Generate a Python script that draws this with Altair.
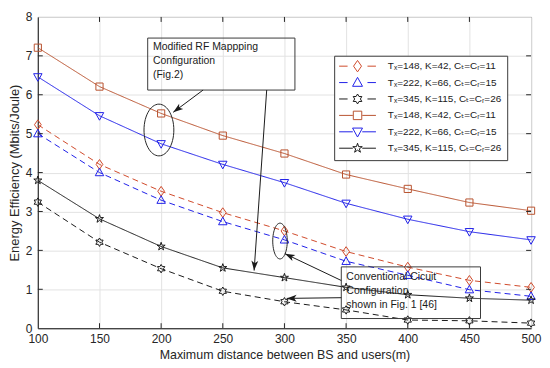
import altair as alt
import pandas as pd
import numpy as np

# ---------------- data ----------------
distance_m = [100, 150, 200, 250, 300, 350, 400, 450, 500]
ee_conv_148 = [5.23, 4.21, 3.52, 2.97, 2.50, 1.97, 1.57, 1.23, 1.05]
ee_conv_222 = [5.00, 4.00, 3.29, 2.74, 2.27, 1.72, 1.36, 0.99, 0.82]
ee_conv_345 = [3.24, 2.21, 1.53, 0.95, 0.68, 0.47, 0.21, 0.19, 0.13]
ee_mod_148 = [7.21, 6.21, 5.52, 4.95, 4.49, 3.95, 3.58, 3.23, 3.02]
ee_mod_222 = [6.46, 5.46, 4.74, 4.21, 3.74, 3.21, 2.80, 2.48, 2.27]
ee_mod_345 = [3.80, 2.81, 2.10, 1.55, 1.30, 1.05, 0.86, 0.77, 0.72]

series_labels = [
    "T\u2093=148, K=42, C\u209c=C\u1d63=11",
    "T\u2093=222, K=66, C\u209c=C\u1d63=15",
    "T\u2093=345, K=115, C\u209c=C\u1d63=26",
    "T\u2093=148, K=42, C\u209c=C\u1d63=11\u200b",
    "T\u2093=222, K=66, C\u209c=C\u1d63=15\u200b",
    "T\u2093=345, K=115, C\u209c=C\u1d63=26\u200b",
]
series_values = [ee_conv_148, ee_conv_222, ee_conv_345, ee_mod_148, ee_mod_222, ee_mod_345]

x_ticks = [100, 150, 200, 250, 300, 350, 400, 450, 500]
y_ticks = [0, 1, 2, 3, 4, 5, 6, 7, 8]

# annotations (data coordinates)
box_x1 = [189.1, 346.1]
box_x2 = [308.5, 459.0]
box_y1 = [7.457, 1.576]
box_y2 = [6.121, 0.248]
note_x = [193.4, 350.2]
note_y = [7.35, 1.45]
note_text = ["Modified RF Mappping\nConfiguration\n(Fig.2)",
             "Conventional Cicuit\nConfiguration\nshown in Fig. 1 [46]"]

ellipse_x = [198.2, 296.4]
ellipse_y = [5.094, 2.240]

arrow_x_from = [234.0, 285.6, 346.1, 346.1]
arrow_y_from = [6.121, 6.121, 1.226, 0.784]
arrow_x_to = [209.8, 275.4, 300.4, 301.8]
arrow_y_to = [5.549, 1.481, 1.915, 0.766]

# ---------------- styles ----------------
keys = series_labels
colors = ["#D04A2A", "#2020E8", "#1A1A1A", "#B8532F", "#2020E8", "#1A1A1A"]
dashes = [[6, 4], [6, 4], [6, 4], [1, 0], [1, 0], [1, 0]]

diamond = "M0,-1.15L0.8,0L0,1.15L-0.8,0Z"
tri_up = "M0,-1.05L1,0.75L-1,0.75Z"
hexagram = ("M0,-1L0.289,-0.5L0.866,-0.5L0.577,0L0.866,0.5L0.289,0.5L0,1"
            "L-0.289,0.5L-0.866,0.5L-0.577,0L-0.866,-0.5L-0.289,-0.5Z")
square = "M-0.85,-0.85H0.85V0.85H-0.85Z"
tri_down = "M0,1.05L1,-0.75L-1,-0.75Z"
pentagram = ("M0,-1L0.225,-0.309L0.951,-0.309L0.363,0.118L0.588,0.809L0,0.382"
             "L-0.588,0.809L-0.363,0.118L-0.951,-0.309L-0.225,-0.309Z")
markers = [diamond, tri_up, hexagram, square, tri_down, pentagram]

dash_seg = "M-3.7,0H-2.0M2.0,0H3.7"
solid_seg = "M-3.7,0H-0.95M0.95,0H3.7"
legend_paths = [dash_seg + m for m in markers[:3]] + [solid_seg + m for m in markers[3:]]


def ellipse_path(rx, ry, n=60):
    t = np.linspace(0, 2 * np.pi, n, endpoint=False)
    pts = ["%.3f,%.3f" % (rx * np.cos(a), ry * np.sin(a)) for a in t]
    return "M" + "L".join(pts) + "Z"


ellipse_shapes = [ellipse_path(0.577, 1.0), ellipse_path(0.406, 1.0)]
ellipse_sizes = [2704, 1296]
arrow_head = "M0,0L-0.55,1.6L0,1.2L0.55,1.6Z"
arrow_angles = [233.3, 184.0, 295.5, 269.3]

FONT = "Liberation Sans, Arial, DejaVu Sans, sans-serif"

# inward tick marks on all four sides (MATLAB box style), in data units
tick_len_x = 4.0    # ~5 px along x
tick_len_y = 0.128  # ~5 px along y
tick_rows = []
for v in x_ticks[1:-1]:
    tick_rows.append({"x": v, "x2": v, "y": 0, "y2": tick_len_y})
    tick_rows.append({"x": v, "x2": v, "y": 8, "y2": 8 - tick_len_y})
for v in y_ticks[1:-1]:
    tick_rows.append({"x": 100, "x2": 100 + tick_len_x, "y": v, "y2": v})
    tick_rows.append({"x": 500, "x2": 500 - tick_len_x, "y": v, "y2": v})
tick_df = pd.DataFrame(tick_rows)

# ---------------- tables ----------------
rows = []
for k, vals in zip(keys, series_values):
    for d, v in zip(distance_m, vals):
        rows.append({"series": k, "distance": d, "ee": v})
df = pd.DataFrame(rows)

box_df = pd.DataFrame({"x1": box_x1, "x2": box_x2, "y1": box_y1, "y2": box_y2})
note_df = pd.DataFrame({"x": note_x, "y": note_y, "text": note_text})
ell_df = pd.DataFrame({"x": ellipse_x, "y": ellipse_y, "shape": ellipse_shapes, "size": ellipse_sizes})
arr_df = pd.DataFrame({"x": arrow_x_from, "y": arrow_y_from, "x2": arrow_x_to, "y2": arrow_y_to,
                       "angle": arrow_angles, "shape": [arrow_head] * 4})

# ---------------- encodings ----------------
xscale = alt.Scale(domain=[100, 500], nice=False, zero=False)
yscale = alt.Scale(domain=[0, 8], nice=False, zero=False)
x_axis = alt.Axis(values=x_ticks, title="Maximum distance between BS and users(m)",
                  labelPadding=5, titlePadding=4, labelFlush=False, labelOverlap=False,
                  titleFontSize=12.5, tickCount=9)
y_axis = alt.Axis(values=y_ticks, title="Energy Efficiency (Mbits/Joule)",
                  labelPadding=6, titlePadding=4, labelFlush=False, labelOverlap=False,
                  titleFontSize=13, tickCount=9)


def X(field):
    return alt.X(field, scale=xscale, axis=x_axis)


def Y(field):
    return alt.Y(field, scale=yscale, axis=y_axis)


color_scale = alt.Scale(domain=keys, range=colors)
base = alt.Chart(df)

lines = base.mark_line(strokeWidth=1).encode(
    x=X("distance:Q"), y=Y("ee:Q"),
    color=alt.Color("series:N", scale=color_scale, legend=None),
    strokeDash=alt.StrokeDash("series:N", scale=alt.Scale(domain=keys, range=dashes), legend=None),
)

points = base.mark_point(filled=False, strokeWidth=1, size=72, opacity=1).encode(
    x=X("distance:Q"), y=Y("ee:Q"),
    color=alt.Color("series:N", scale=color_scale, legend=None),
    shape=alt.Shape("series:N", scale=alt.Scale(domain=keys, range=markers), legend=None),
)

leg = alt.Legend(title=None, orient="none", legendX=298, legendY=39,
                 fillColor="white", strokeColor="#3A3A3A", padding=5,
                 labelFont=FONT, labelFontSize=10, labelColor="#1A1A1A", labelLimit=250,
                 symbolStrokeWidth=1, rowPadding=0.5, labelOffset=25, symbolOffset=13,
                 gridAlign="all")

legend_layer = base.transform_filter("false").mark_point(filled=False, strokeWidth=1, size=81, opacity=1).encode(
    x=X("distance:Q"), y=Y("ee:Q"),
    color=alt.Color("series:N", scale=color_scale, legend=leg),
    shape=alt.Shape("series:N", scale=alt.Scale(domain=keys, range=legend_paths), legend=leg),
)

ticks = alt.Chart(tick_df).mark_rule(color="#262626", strokeWidth=1).encode(
    x=X("x:Q"), y=Y("y:Q"), x2="x2:Q", y2="y2:Q")

boxes = alt.Chart(box_df).mark_rect(fillOpacity=0, stroke="#3A3A3A", strokeWidth=1).encode(
    x=X("x1:Q"), x2="x2:Q", y=Y("y1:Q"), y2="y2:Q")

notes = alt.Chart(note_df).mark_text(align="left", baseline="top", lineBreak="\n", lineHeight=14,
                                     font=FONT, fontSize=10.5, color="#1A1A1A").encode(
    x=X("x:Q"), y=Y("y:Q"), text="text:N")

ellipses = alt.Chart(ell_df).mark_point(filled=False, stroke="#262626", strokeWidth=1, opacity=1).encode(
    x=X("x:Q"), y=Y("y:Q"),
    shape=alt.Shape("shape:N", scale=None), size=alt.Size("size:Q", scale=None))

arrow_lines = alt.Chart(arr_df).mark_rule(color="#1A1A1A", strokeWidth=1).encode(
    x=X("x:Q"), y=Y("y:Q"), x2="x2:Q", y2="y2:Q")

arrow_heads = alt.Chart(arr_df).mark_point(filled=True, color="#1A1A1A", size=156, opacity=1).encode(
    x=X("x2:Q"), y=Y("y2:Q"),
    shape=alt.Shape("shape:N", scale=None), angle=alt.Angle("angle:Q", scale=None))

chart = alt.layer(lines, points, legend_layer, ticks, boxes, notes, ellipses, arrow_lines, arrow_heads).resolve_scale(
    color="independent", shape="independent"
).properties(
    width=496, height=313,
    padding={"left": 0, "top": 2, "right": 0, "bottom": 0},
).configure_view(stroke="#262626", strokeWidth=1).configure_axis(
    grid=True, gridColor="#E2E2E2", domainColor="#262626", ticks=False,
    labelFont=FONT, labelFontSize=12, labelColor="#262626",
    titleFont=FONT, titleFontWeight="normal", titleColor="#262626",
)

chart.save("out.html", embed_options={"renderer": "svg", "actions": False})
